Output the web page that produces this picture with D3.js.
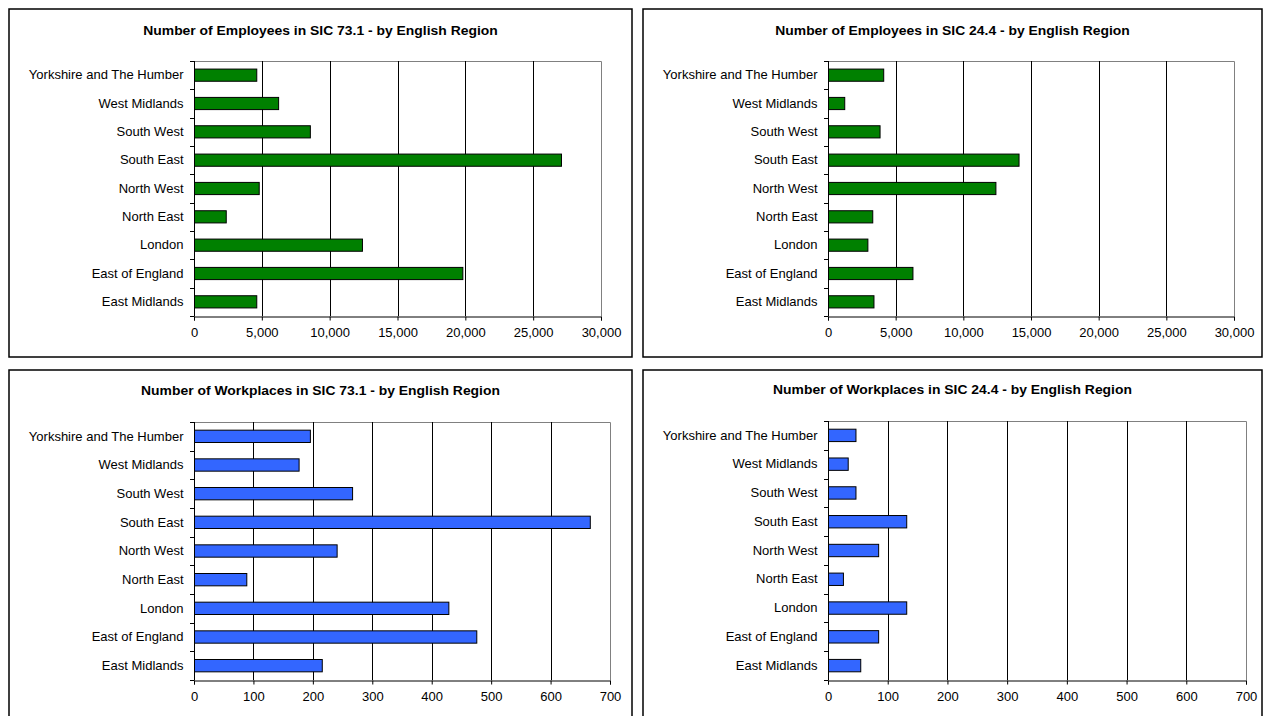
<!DOCTYPE html>
<html>
<head>
<meta charset="utf-8">
<script src="https://cdn.jsdelivr.net/npm/d3@7"></script>
<style>
  body { margin: 0; background: #fff; }
  svg { display: block; font-family: "Liberation Sans", Arial, sans-serif; }
  .title { font-weight: bold; font-size: 13px; }
  .tick text { font-size: 13px; fill: #000; }
</style>
</head>
<body>
<div id="app"></div>
<script>
// Regions, bottom to top as drawn
const regions = ['East Midlands', 'East of England', 'London', 'North East', 'North West',
  'South East', 'South West', 'West Midlands', 'Yorkshire and The Humber'];

const employees731 = [4590, 19780, 12380, 2340, 4770, 27050, 8540, 6200, 4590];
const employees244 = [3360, 6240, 2910, 3270, 12370, 14080, 3810, 1200, 4080];
const workplaces731 = [215, 475, 428, 88, 240, 666, 266, 176, 195];
const workplaces244 = [54, 84, 131, 25, 84, 131, 46, 33, 46];

const employeeTicks = [0, 5000, 10000, 15000, 20000, 25000, 30000];
const workplaceTicks = [0, 100, 200, 300, 400, 500, 600, 700];

const titles = [
  'Number of Employees in SIC 73.1 - by English Region',
  'Number of Employees in SIC 24.4 - by English Region',
  'Number of Workplaces in SIC 73.1 - by English Region',
  'Number of Workplaces in SIC 24.4 - by English Region'
];

const GREEN = '#008000';
const BLUE = '#3366ff';

// Panel layout (frame + plot area)
const panels = [
  { values: employees731, ticks: employeeTicks, color: GREEN, title: titles[0],
    frame: [9, 9, 623, 348], plot: [194, 61, 601, 316], titleY: 30 },
  { values: employees244, ticks: employeeTicks, color: GREEN, title: titles[1],
    frame: [643, 9, 619, 348], plot: [828, 61, 1234, 316], titleY: 30 },
  { values: workplaces731, ticks: workplaceTicks, color: BLUE, title: titles[2],
    frame: [9, 370, 623, 360], plot: [194, 422, 610, 680], titleY: 390 },
  { values: workplaces244, ticks: workplaceTicks, color: BLUE, title: titles[3],
    frame: [643, 370, 619, 360], plot: [828, 421, 1246, 680], titleY: 389 }
];

const svg = d3.select('#app').append('svg')
  .attr('width', 1268)
  .attr('height', 716);

function drawPanel(p) {
  const [fx, fy, fw, fh] = p.frame;
  const [x0, y0, x1, y1] = p.plot;
  const g = svg.append('g');

  g.append('rect')
    .attr('x', fx).attr('y', fy).attr('width', fw).attr('height', fh)
    .attr('fill', '#fff').attr('stroke', '#000').attr('stroke-width', 1.5);

  // title is drawn a little wider, as in the original export
  g.append('text')
    .attr('class', 'title')
    .attr('transform', `translate(${fx + fw / 2},${p.titleY}) scale(1.07,1)`)
    .attr('dy', '0.35em')
    .attr('text-anchor', 'middle')
    .text(p.title);

  const x = d3.scaleLinear()
    .domain([p.ticks[0], p.ticks[p.ticks.length - 1]])
    .range([x0, x1]);

  const y = d3.scaleBand()
    .domain(regions)
    .range([y1, y0])
    .paddingInner(0.57)
    .paddingOuter(0.285);

  const slot = d3.scaleBand().domain(regions).range([y1, y0]);

  // plot border (top and right) in grey
  g.append('path')
    .attr('d', `M${x0},${y0 + 0.5}H${x1 + 0.5}V${y1}`)
    .attr('fill', 'none').attr('stroke', '#808080');

  // gridlines
  g.selectAll('.grid')
    .data(p.ticks.slice(1, -1))
    .join('line')
    .attr('x1', d => Math.round(x(d)) + 0.5).attr('x2', d => Math.round(x(d)) + 0.5)
    .attr('y1', y0).attr('y2', y1)
    .attr('stroke', '#000');

  // bars
  g.selectAll('.bar')
    .data(regions.map((r, i) => ({ region: r, value: p.values[i] })))
    .join('rect')
    .attr('x', x0 + 0.5)
    .attr('y', d => y(d.region))
    .attr('width', d => x(d.value) - x0)
    .attr('height', y.bandwidth())
    .attr('fill', p.color)
    .attr('stroke', '#000')
    .attr('stroke-width', 1);

  // x axis
  g.append('g')
    .attr('transform', `translate(0,${y1 + 0.5})`)
    .call(d3.axisBottom(x).tickValues(p.ticks).tickSize(4).tickPadding(7)
      .tickFormat(d3.format(',')))
    .call(a => a.select('.domain').attr('stroke', '#000'));

  // y axis labels
  g.append('g')
    .attr('transform', `translate(${x0 + 0.5},0)`)
    .call(d3.axisLeft(y).tickSize(0).tickPadding(11))
    .call(a => a.select('.domain').remove());

  // y axis line + ticks at category boundaries
  const edges = regions.map(r => slot(r)).concat([y1]);
  g.append('line')
    .attr('x1', x0 + 0.5).attr('x2', x0 + 0.5)
    .attr('y1', y0).attr('y2', y1)
    .attr('stroke', '#000');
  g.selectAll('.ytick')
    .data(edges)
    .join('line')
    .attr('x1', x0 - 4).attr('x2', x0 + 0.5)
    .attr('y1', d => Math.round(d) + 0.5).attr('y2', d => Math.round(d) + 0.5)
    .attr('stroke', '#000');
}

panels.forEach(drawPanel);
</script>
</body>
</html>
